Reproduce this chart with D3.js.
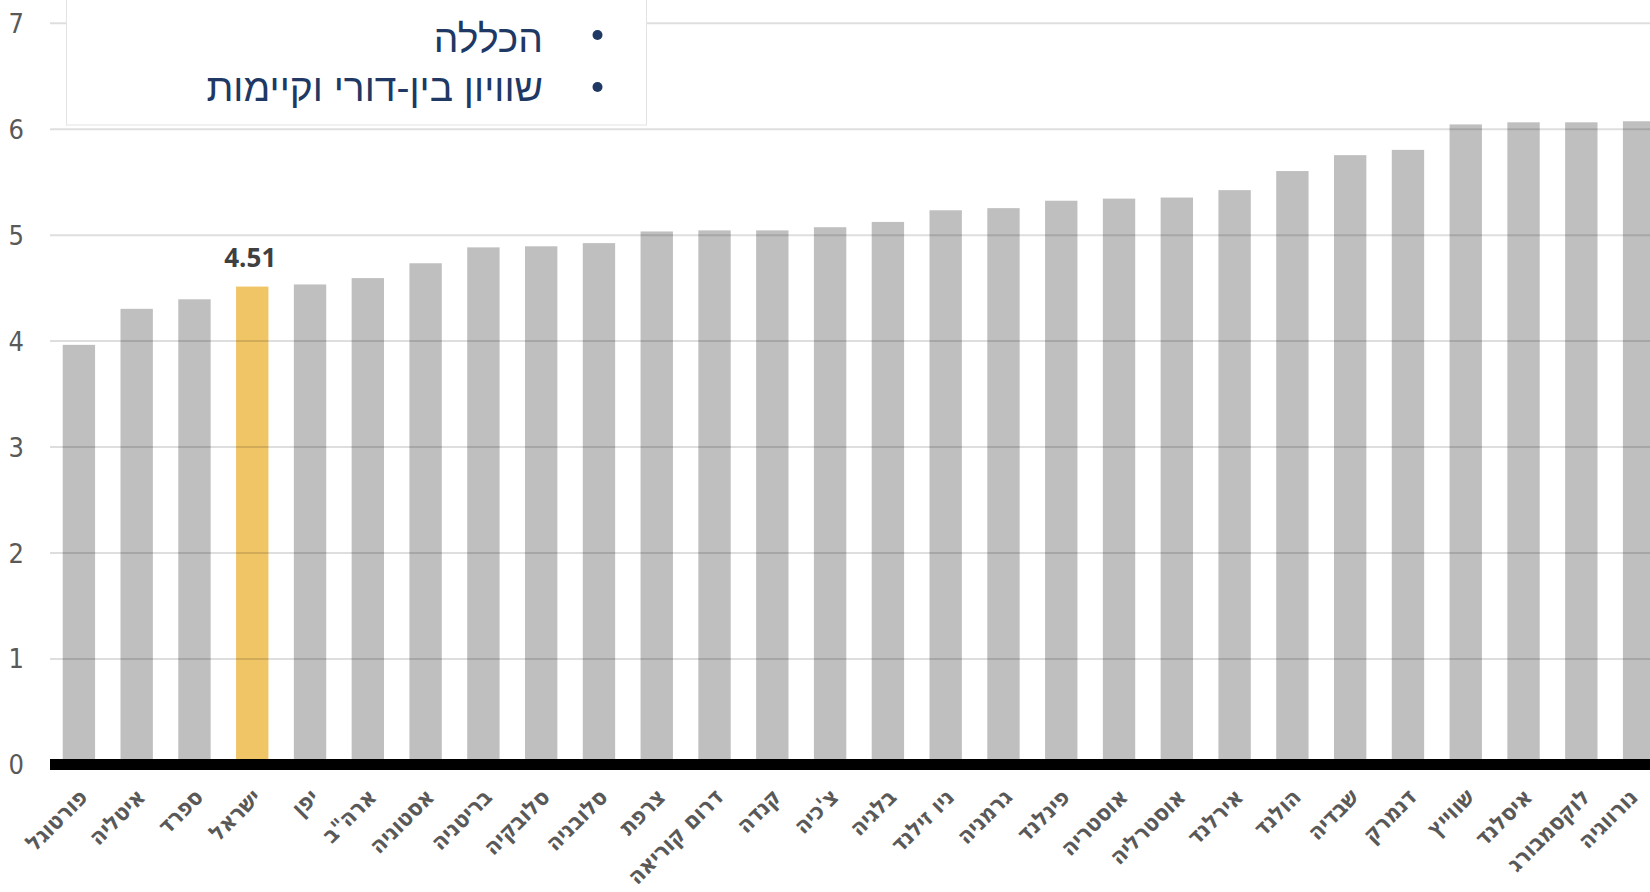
<!DOCTYPE html>
<html lang="he">
<head>
<meta charset="utf-8">
<title>OECD - quality of life index</title>
<script src="https://cdnjs.cloudflare.com/ajax/libs/d3/7.8.5/d3.min.js"></script>
<style>
  body { margin: 0; background: #fff; }
  .grid line { stroke: rgba(0,0,0,0.13); stroke-width: 2px; }
  .grid text {
    font-family: "Liberation Sans Narrow", "DejaVu Sans Condensed", sans-serif;
    font-size: 27px;
    fill: #595959;
  }
  .xlab text {
    font-family: "DejaVu Sans Condensed", "DejaVu Sans", sans-serif;
    font-weight: bold;
    font-size: 23px;
    fill: #595959;
  }
  .legend text {
    font-family: "Liberation Sans", "DejaVu Sans", sans-serif;
    font-size: 39px;
    fill: #203864;
  }
</style>
</head>
<body>
<script>
// data
var countries = ["פורטוגל", "איטליה", "ספרד", "ישראל", "יפן", "ארה\"ב", "אסטוניה", "בריטניה",
  "סלובקיה", "סלובניה", "צרפת", "דרום קוריאה", "קנדה", "צ'כיה", "בלגיה", "ניו זילנד",
  "גרמניה", "פינלנד", "אוסטריה", "אוסטרליה", "אירלנד", "הולנד", "שבדיה", "דנמרק",
  "שווייץ", "איסלנד", "לוקסמבורג", "נורווגיה"];
var values = [3.96, 4.30, 4.39, 4.51, 4.53, 4.59, 4.73, 4.88,
  4.89, 4.92, 5.03, 5.04, 5.04, 5.07, 5.12, 5.23,
  5.25, 5.32, 5.34, 5.35, 5.42, 5.60, 5.75, 5.80,
  6.04, 6.06, 6.06, 6.07];
var highlight = "ישראל";
var yTicks = [0, 1, 2, 3, 4, 5, 6, 7];
var legendItems = ["הכללה", "שוויון בין-דורי וקיימות"];

var W = 1650, H = 892;
var left = 50;

var svg = d3.select("body").append("svg")
  .attr("width", W).attr("height", H);

var x = d3.scaleBand()
  .domain(countries)
  .range([50, 1668])
  .paddingInner(0.44)
  .paddingOuter(0.22);

var y = d3.scaleLinear()
  .domain([0, 7])
  .range([764.5, 22.7]);

// bars
svg.append("g").selectAll("rect")
  .data(countries).enter()
  .append("rect")
  .attr("x", function(d) { return x(d); })
  .attr("width", x.bandwidth())
  .attr("y", function(d, i) { return y(values[i]); })
  .attr("height", function(d, i) { return y(0) - y(values[i]); })
  .attr("fill", function(d) { return d == highlight ? "#f0c566" : "#bfbfbf"; });

// gridlines + y labels
var yAxis = d3.axisLeft(y)
  .tickValues(yTicks)
  .tickSize(-(W - left))
  .tickPadding(26)
  .tickFormat(d3.format("d"));

var g = svg.append("g")
  .attr("class", "grid")
  .attr("transform", "translate(" + left + ",0)")
  .call(yAxis);
g.select(".domain").remove();
g.selectAll("text").attr("dy", "0.35em");

// baseline
svg.append("line")
  .attr("x1", left).attr("x2", W)
  .attr("y1", y(0)).attr("y2", y(0))
  .attr("stroke", "#000").attr("stroke-width", 11);

// x labels
var xAxis = d3.axisBottom(x).tickSize(0);
var xg = svg.append("g")
  .attr("class", "xlab")
  .attr("transform", "translate(0," + y(0) + ")")
  .call(xAxis);
xg.select(".domain").remove();
xg.selectAll("text")
  .attr("x", 0).attr("y", 0).attr("dy", 0)
  .attr("text-anchor", "end")
  .attr("transform", function(d, i) {
    // last label is pulled in so it stays inside the chart
    var dx = i == countries.length - 1 ? 0 : 10;
    return "translate(" + dx + ",34) rotate(-45)";
  });

// value label for Israel
var hi = countries.indexOf(highlight);
svg.append("text")
  .attr("x", x(highlight) + x.bandwidth() / 2 - 2)
  .attr("y", y(values[hi]) - 20)
  .attr("text-anchor", "middle")
  .style("font-family", "'Open Sans', 'DejaVu Sans', sans-serif")
  .style("font-weight", "bold")
  .style("font-size", "26px")
  .style("fill", "#404040")
  .text(values[hi].toFixed(2));

// legend box
var lg = svg.append("g").attr("class", "legend");
lg.append("rect")
  .attr("x", 66.5).attr("y", -2)
  .attr("width", 580).attr("height", 127)
  .attr("fill", "#fff")
  .attr("stroke", "#e3e3e3");

lg.selectAll("circle")
  .data(legendItems).enter()
  .append("circle")
  .attr("cx", 597.5)
  .attr("cy", function(d, i) { return 35 + i * 52; })
  .attr("r", 5)
  .attr("fill", "#203864");

lg.selectAll("text")
  .data(legendItems).enter()
  .append("text")
  .attr("x", 543)
  .attr("y", function(d, i) { return 51.5 + i * 49; })
  .attr("text-anchor", "end")
  .text(function(d) { return d; });
</script>
</body>
</html>
